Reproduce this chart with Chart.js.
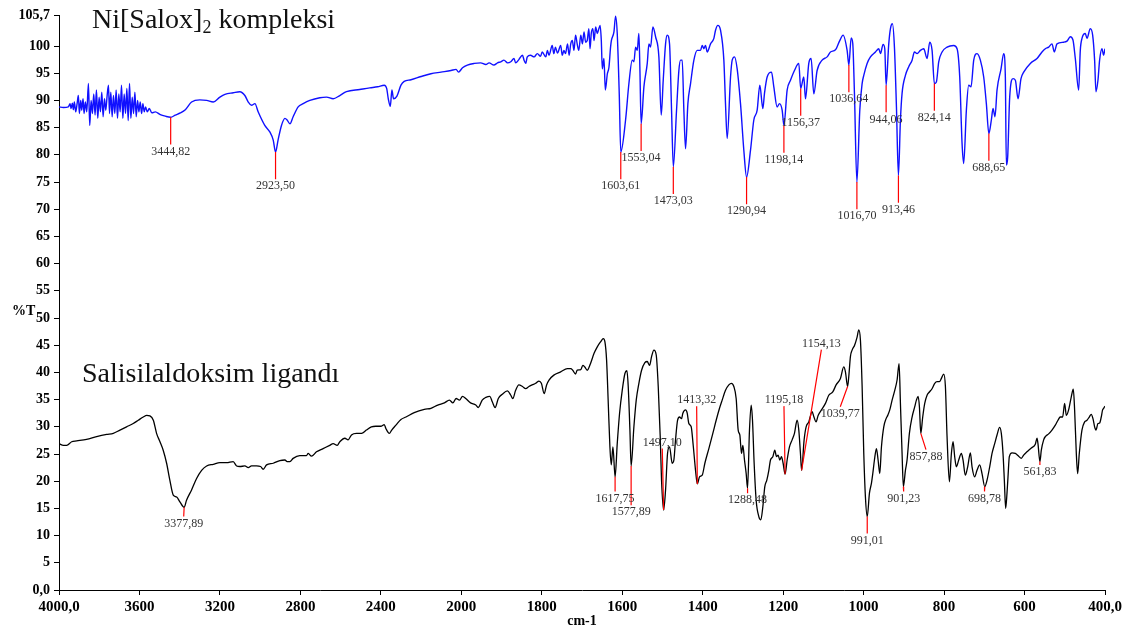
<!DOCTYPE html>
<html>
<head>
<meta charset="utf-8">
<script src="https://cdn.jsdelivr.net/npm/chart.js@4.4.1/dist/chart.umd.min.js"></script>
<style>
  html, body { margin: 0; padding: 0; background: #fff; }
  #wrap { width: 1137px; height: 632px; }
</style>
</head>
<body>
<div id="wrap"><canvas id="ir" width="1137" height="632"></canvas></div>
<script>
'use strict';

// ── IR spectra: Ni[Salox]2 complex (blue) and salicylaldoxime ligand (black) ──

// Ni[Salox]2 kompleksi — wavenumber (cm-1) / %T
const complexWn = [
  4000, 3978.5, 3953.5, 3945, 3940, 3933.6, 3928.6, 3923.6, 3917, 3910, 3903.7, 3898.7, 3892, 3887, 3880.4, 3875.4,
  3868.8, 3862, 3853.8, 3847.2, 3840.5, 3833.9, 3827.2, 3820.6, 3813.9, 3807.3, 3800.6, 3794, 3787.3, 3780.7, 3774, 3767.4,
  3760.7, 3754, 3749, 3742.5, 3735.8, 3729.2, 3722.5, 3715.9, 3709.2, 3702.6, 3696, 3689.3, 3682.6, 3676, 3669.3, 3662.7,
  3656, 3649.4, 3642.7, 3636, 3629.4, 3622.8, 3616.1, 3609.5, 3602.8, 3596.2, 3589.5, 3582.9, 3576.3, 3569.6, 3561.3, 3551.3,
  3538, 3521.4, 3496.5, 3471.5, 3445, 3421.7, 3396.8, 3372, 3341,
  3300, 3266, 3233, 3200, 3175, 3134, 3101, 3076, 3059, 3043, 3026, 3010, 2977, 2952, 2935, 2923.5,
  2911, 2894, 2877, 2866, 2852, 2836, 2811, 2786, 2753, 2703, 2670, 2637, 2604, 2571, 2505, 2455,
  2416, 2383, 2371, 2363, 2353, 2345, 2337, 2320, 2300, 2284, 2250, 2200, 2151, 2101, 2051, 2026,
  2014, 1997, 1985, 1968, 1952, 1939, 1931, 1919, 1910, 1902, 1894, 1885, 1877, 1869, 1865, 1857,
  1848, 1844, 1840, 1836, 1828, 1819, 1811, 1803, 1799, 1790, 1786, 1782, 1774, 1770, 1766, 1761,
  1753, 1749, 1745, 1741, 1736, 1732, 1728, 1724, 1720, 1716, 1712, 1708, 1703, 1699, 1695, 1691,
  1687, 1683, 1680, 1677, 1673, 1670, 1666, 1662, 1658, 1655, 1652, 1649.5, 1645.5, 1642, 1637, 1633,
  1629, 1627, 1620.6, 1616.5, 1612.4, 1607.4, 1603.6, 1591.7, 1583.4, 1575.1, 1571, 1566.8, 1562.7, 1558.6, 1556, 1553,
  1546.1, 1537.8, 1533.7, 1529.6, 1523.8, 1517.1, 1508.9, 1503.1, 1498.1, 1492.3, 1488.2, 1482.4, 1477.4, 1473, 1465, 1459.2,
  1455, 1450.9, 1446.8, 1442.6, 1436.8, 1430.2, 1421.9, 1413.6, 1405.4, 1401.2, 1397.1, 1393, 1388.8, 1380.5, 1372.2, 1368.1,
  1362.3, 1355.7, 1347.4, 1343.3, 1339.1, 1330.8, 1326.7, 1320.9, 1314.3, 1306, 1297.7, 1290.9, 1281.2, 1272.9, 1264.6, 1258,
  1250.5, 1246.4, 1239.8, 1229, 1223.2, 1215, 1209.1, 1202.5, 1198.1, 1190.1, 1181.8, 1171.9, 1161.1, 1156.4, 1148.7, 1144.5,
  1136.3, 1130.5, 1123.8, 1115.6, 1103.1, 1090.7, 1082.4, 1070, 1059.3, 1051, 1041, 1036.6, 1031, 1027, 1022.8, 1016.7,
  1009.5, 1003.7, 999.6, 991.3, 983, 970.6, 962.3, 958.2, 951.6, 947.4, 944.1, 937.5, 933.3, 928.4, 923.4, 918.4,
  913.5, 908.5, 904.4, 896.1, 887.8, 879.5, 873.7, 867.1, 858.8, 850.5, 842.3, 835.6, 829.8, 824.1, 819.1, 813.3,
  805, 792.6, 776, 767.7, 761.1, 755.3, 751.2, 744.6, 738.8, 733, 726.3, 718, 709.8, 701.5, 694.9, 688.7,
  682.5, 678.3, 673.4, 668.4, 658.4, 651.8, 647.7, 645.2, 641.9, 636.9, 628.6, 622.8, 616.2, 608.8, 602.1, 585.6,
  569, 556.6, 548.3, 540, 531.8, 526, 519.4, 502.8, 494.5, 486.2, 479.6, 473.8, 465.5, 461.4, 457.2, 449,
  444.8, 436.5, 430.7, 425.8, 422.5, 417.5, 413.4, 407.6, 403.4, 400
];
const complexT = [
  88.8, 88.7, 88.8, 89.4, 88.5, 89.5, 88.3, 89.7, 87.9, 89.4, 90.9, 87.6, 90.0, 88.2, 90.3, 87.6,
  89.7, 87.9, 93.1, 85.4, 90.0, 87.6, 91.2, 87.3, 91.9, 86.7, 90.6, 87.9, 91.5, 87.0, 90.3, 88.2,
  90.9, 92.8, 87.6, 91.5, 87.0, 90.9, 87.6, 91.9, 86.7, 91.2, 87.9, 92.8, 86.7, 91.2, 87.6, 92.2,
  86.3, 93.1, 86.7, 90.6, 87.6, 91.5, 87.0, 90.0, 87.9, 89.7, 87.6, 89.4, 87.9, 88.8, 87.9, 88.5,
  87.7, 87.9, 87.4, 87.1, 86.9, 87.3, 87.7, 88.3, 89.7,
  90.1, 90.0, 89.7, 90.6, 91.1, 91.4, 91.6, 90.9, 89.7, 89.1, 89.4, 87.9, 85.4, 84.2, 82.7, 80.5,
  82.7, 85.4, 86.7, 86.4, 85.7, 87.0, 88.8, 89.4, 90.0, 90.5, 90.6, 90.3, 90.9, 91.6, 92.0, 92.3,
  92.5, 92.8, 92.2, 90.3, 88.9, 91.9, 90.3, 90.8, 92.8, 93.5, 93.8, 94.4, 94.9, 95.2, 95.5, 95.7,
  95.2, 96.0, 96.5, 96.8, 96.9, 96.6, 96.9, 96.5, 96.9, 97.1, 97.4, 96.9, 97.1, 97.7, 96.9, 97.5,
  98.3, 97.4, 96.8, 98.0, 98.3, 98.0, 98.6, 98.1, 98.9, 98.0, 99.2, 98.3, 100.1, 98.6, 99.8, 98.7,
  100.1, 98.3, 99.2, 98.6, 100.4, 98.3, 100.4, 101.0, 99.2, 102.0, 100.4, 99.2, 102.0, 100.4, 102.6, 100.7,
  101.0, 103.2, 99.5, 102.3, 103.2, 101.0, 103.5, 102.3, 103.2, 103.8, 101.0, 95.8, 97.7, 91.9, 94.9, 96.1,
  99.8, 101.0, 102.6, 105.5, 102.3, 91.2, 80.5, 86.4, 93.1, 97.4, 97.1, 99.8, 99.2, 102.3, 95.5, 85.7,
  92.5, 96.8, 100.4, 99.8, 103.5, 101.7, 98.0, 87.3, 93.7, 100.4, 102.0, 100.4, 88.2, 77.8, 88.2, 95.5,
  97.4, 97.4, 88.2, 81.1, 89.4, 93.1, 97.4, 99.2, 99.2, 100.1, 99.5, 100.1, 98.9, 100.4, 101.4, 102.9,
  103.8, 102.9, 97.4, 89.4, 83.0, 94.3, 97.4, 98.0, 95.8, 89.4, 80.8, 75.9, 80.8, 86.4, 88.2, 92.8,
  88.5, 91.3, 94.3, 95.2, 92.5, 88.8, 89.4, 88.2, 85.4, 91.9, 93.7, 95.5, 96.8, 92.2, 94.3, 90.3,
  96.8, 97.7, 91.2, 95.5, 97.4, 98.0, 98.9, 99.3, 101.0, 102.0, 99.2, 96.5, 101.5, 100.5, 91.3, 75.0,
  88.2, 93.1, 94.6, 96.8, 98.0, 98.9, 99.5, 98.6, 100.3, 99.5, 92.8, 100.4, 103.2, 104.1, 99.8, 88.8,
  76.2, 86.4, 91.3, 94.6, 96.2, 97.4, 98.9, 98.6, 99.2, 99.5, 97.7, 100.7, 99.2, 93.1, 93.4, 97.1,
  98.9, 99.8, 100.1, 99.5, 94.3, 82.1, 78.4, 88.2, 92.8, 92.5, 97.4, 98.6, 97.4, 94.3, 89.4, 83.9,
  86.4, 88.5, 87.0, 91.9, 95.8, 98.6, 94.3, 78.1, 79.6, 90.6, 94.0, 93.7, 90.3, 94.0, 95.2, 96.8,
  97.7, 98.9, 99.5, 99.8, 100.4, 98.9, 100.4, 100.7, 100.9, 101.7, 101.1, 97.7, 91.9, 99.2, 101.4, 102.3,
  101.4, 103.2, 102.0, 97.4, 91.6, 93.7, 97.4, 99.5, 98.3, 99.5
];

// Salisilaldoksim ligandı — wavenumber (cm-1) / %T
const ligandWn = [
  4000, 3978, 3962, 3937, 3912, 3863, 3813, 3763, 3730, 3697, 3664, 3631, 3606, 3581, 3564, 3548,
  3531, 3515, 3498, 3482, 3465, 3449, 3432, 3415, 3399, 3377.9, 3366, 3341, 3316, 3291, 3266, 3233,
  3200, 3167, 3134, 3117, 3101, 3076, 3059, 3043, 3018, 2998, 2985, 2968, 2935, 2902, 2877, 2866,
  2852, 2836, 2803, 2770, 2761, 2745, 2720, 2687, 2654, 2637, 2617, 2604, 2579, 2563, 2546, 2521,
  2496, 2472, 2447, 2425, 2400, 2383, 2375, 2358, 2346, 2325, 2300, 2275, 2234, 2184, 2151, 2117,
  2084, 2059, 2042, 2026, 2009, 1997, 1989, 1977, 1964, 1958, 1948, 1939, 1929, 1923, 1916, 1908,
  1898, 1885.5, 1877, 1872, 1865, 1857, 1848, 1840, 1832, 1824, 1815, 1807, 1801, 1794, 1788, 1782,
  1770, 1753, 1736.5, 1728, 1723, 1716, 1712, 1703, 1698, 1693, 1687, 1679, 1670, 1662, 1654, 1647,
  1643, 1638.9, 1634.7, 1630.6, 1627.3, 1623.1, 1617.75, 1612.4, 1606.6, 1600, 1593.3, 1588.4, 1585.1, 1580.9, 1577.9, 1571,
  1565.2, 1558.6, 1551.9, 1543.7, 1537.9, 1532, 1527.1, 1521.3, 1515.5, 1510.5, 1505.6, 1502.3, 1497.1, 1492.3, 1487.4, 1482.4,
  1475.8, 1471.6, 1467.5, 1462.5, 1457.5, 1452.6, 1449.3, 1442.6, 1438.5, 1434.4, 1428.6, 1423.6, 1417.8, 1413.3, 1407.9, 1401.2,
  1394.6, 1384.7, 1374.8, 1366.5, 1358.2, 1351.6, 1343.3, 1335, 1328.4, 1322.6, 1316.8, 1311.8, 1307.7, 1303.5, 1300.2, 1296.1,
  1291.9, 1288.5, 1283.7, 1279.5, 1276.2, 1272.1, 1267.1, 1260.5, 1255.5, 1250.5, 1245.6, 1240.6, 1235.6, 1231.5, 1225.7, 1220.7,
  1216.6, 1212.5, 1208.3, 1204.2, 1200.1, 1195.2, 1190.1, 1184.3, 1177.7, 1171.9, 1165.3, 1161.1, 1157, 1154.1, 1147.9, 1142.9,
  1136.3, 1128, 1123.9, 1118.1, 1113.1, 1104.8, 1094.9, 1086.6, 1076.7, 1068.4, 1057.6, 1049.4, 1045.2, 1039.8, 1036.9, 1032.8,
  1028.6, 1022.4, 1016.2, 1012, 1007.9, 1003.7, 999.6, 995.5, 991, 985.5, 980.6, 977.2, 973.1, 968.1, 964, 959.9,
  955.7, 949.9, 944.1, 940, 935, 929.2, 922.6, 916.8, 911.8, 908.5, 904.4, 901.2, 896.1, 892, 886.2, 879.5,
  872.9, 868.8, 864.6, 861.3, 857.9, 853.1, 848.1, 842.3, 836.5, 829.9, 823.2, 817.4, 811.6, 806.7, 800.9, 796.7,
  792.6, 786.8, 781.8, 777.7, 773.6, 769.4, 763.6, 757, 752.9, 747.1, 741.3, 734.6, 730.5, 723.9, 718.1, 711.5,
  705.7, 698.8, 693.2, 686.6, 680.8, 674.2, 668.4, 661.8, 657.7, 653.5, 650.2, 646.9, 643.6, 641.1, 637.8, 631.1,
  622.9, 614.6, 608, 602.2, 593.9, 583.1, 573.2, 569, 566.6, 561.8, 558.3, 552.5, 548.3, 540.1, 531.8, 523.5,
  516.9, 511.1, 505.3, 500.3, 496.2, 490.4, 483.8, 478.8, 475.5, 471.3, 468, 463.9, 457.3, 450.6, 444.8, 439.1,
  434.1, 429.9, 425.8, 422.5, 417.5, 413.4, 409.3, 406, 403.4, 400
];
const ligandT = [
  26.9, 26.6, 26.6, 27.25, 27.4, 27.7, 28.2, 28.6, 28.8, 29.4, 30.0, 30.6, 31.2, 31.8, 32.1, 32.0,
  31.2, 28.8, 27.25, 25.7, 23.3, 20.2, 17.45, 17.1, 16.2, 15.2, 16.5, 18.4, 20.5, 22.0, 22.8, 23.1,
  23.4, 23.4, 23.6, 22.8, 22.7, 22.8, 22.5, 22.8, 22.8, 22.7, 22.2, 23.0, 23.3, 23.8, 23.9, 23.6,
  23.6, 24.2, 24.7, 24.7, 25.1, 24.6, 25.4, 26.0, 26.6, 26.9, 26.6, 27.25, 27.9, 27.6, 28.5, 28.8,
  28.8, 29.4, 30.0, 30.1, 30.1, 30.4, 29.7, 28.8, 29.4, 30.3, 31.35, 31.8, 32.6, 33.2, 33.4, 34.0,
  34.4, 34.9, 34.4, 35.2, 34.9, 35.6, 35.2, 34.4, 34.0, 33.55, 34.9, 35.4, 35.6, 34.6, 33.55, 35.2,
  36.0, 36.6, 35.8, 35.2, 36.7, 37.7, 37.4, 37.0, 37.4, 37.7, 38.0, 38.4, 38.0, 36.1, 37.7, 38.6,
  39.5, 40.1, 40.7, 40.7, 40.4, 39.7, 40.4, 40.5, 41.3, 41.0, 40.4, 41.6, 43.5, 44.7, 45.6, 46.2,
  45.6, 42.3, 34.3, 26.3, 23.0, 26.3, 20.8, 26.9, 32.5, 36.7, 39.8, 40.3, 37.4, 29.4, 22.8, 30.0,
  34.9, 38.0, 40.4, 41.8, 42.0, 41.3, 42.9, 44.1, 43.2, 37.4, 28.2, 20.2, 14.7, 18.4, 25.1, 26.3,
  23.3, 23.9, 27.6, 31.2, 31.8, 31.5, 32.5, 33.1, 32.5, 30.6, 30.0, 26.6, 22.0, 19.5, 20.8, 21.1,
  23.3, 26.0, 28.8, 31.2, 33.4, 34.9, 36.7, 37.7, 38.0, 37.4, 35.2, 29.4, 28.5, 25.1, 26.6, 23.9,
  21.4, 18.7, 29.4, 34.0, 31.2, 23.3, 16.5, 13.5, 12.9, 15.3, 19.0, 20.2, 22.0, 23.9, 24.5, 25.7,
  24.5, 24.8, 23.9, 24.5, 23.3, 21.3, 23.9, 26.3, 27.6, 28.8, 31.2, 29.4, 25.1, 22.0, 27.6, 30.0,
  30.9, 32.8, 31.9, 30.9, 32.1, 33.1, 34.3, 35.8, 36.4, 37.7, 38.9, 41.0, 40.1, 37.4, 39.2, 42.9,
  44.1, 45.0, 46.5, 47.8, 45.9, 37.4, 25.1, 17.1, 13.5, 17.8, 19.6, 21.4, 23.9, 26.0, 23.9, 21.4,
  26.3, 30.0, 31.5, 32.1, 33.1, 34.9, 36.7, 38.6, 41.6, 34.3, 25.1, 19.0, 22.0, 23.9, 28.8, 31.8,
  33.7, 34.9, 35.6, 33.7, 28.8, 31.8, 34.3, 35.8, 36.4, 37.0, 38.0, 38.3, 38.3, 38.9, 39.7, 37.4,
  28.2, 19.9, 25.1, 27.25, 24.5, 22.65, 23.9, 25.1, 23.9, 21.1, 22.65, 25.2, 22.65, 20.8, 22.0, 23.0,
  21.4, 19.0, 20.2, 22.65, 25.1, 26.9, 28.5, 29.9, 28.8, 25.1, 20.2, 15.0, 17.8, 20.8, 24.5, 25.2,
  25.1, 24.6, 24.2, 24.8, 25.4, 26.1, 26.8, 27.9, 26.9, 23.6, 25.7, 27.6, 28.2, 28.7, 29.4, 30.3,
  31.2, 31.8, 31.8, 34.3, 32.1, 33.1, 35.5, 36.9, 33.1, 25.1, 21.4, 25.1, 29.4, 30.9, 31.2, 31.8,
  32.3, 31.5, 30.0, 29.4, 30.6, 30.7, 31.8, 33.1, 33.4, 33.8
];

// peak picks: label text (cm-1) and %T at the band minimum
const complexPeakLabels = ['3444,82', '2923,50', '1603,61', '1553,04', '1473,03', '1290,94', '1198,14',
                           '1156,37', '1036,64', '1016,70', '944,06', '913,46', '824,14', '688,65'];
const complexPeakT      = [86.9, 80.5, 80.5, 85.7, 77.8, 75.9, 85.4, 92.2, 96.5, 75.0, 92.8, 76.2, 93.1, 83.9];

const ligandPeakLabels  = ['3377,89', '1617,75', '1577,89', '1497,10', '1413,32', '1288,48', '1195,18',
                           '1154,13', '1039,77', '991,01', '901,23', '857,88', '698,78', '561,83'];
const ligandPeakT       = [15.2, 20.8, 22.8, 14.7, 19.5, 18.7, 21.3, 22.0, 37.4, 13.5, 19.0, 28.8, 19.0, 23.6];
// where each ligand leader line ends (label sits past this end)
const ligandLeaderWn    = [3380, 1617.75, 1577.89, 1500.5, 1415, 1288.48, 1198, 1105, 1058, 991.01, 900.5, 845, 699.5, 561.83];
const ligandLeaderT     = [13.5, 18.1, 15.6, 26.0, 33.8, 17.8, 33.8, 44.2, 33.7, 10.4, 18.1, 25.8, 18.1, 23.0];

const yTickValues = [0, 5, 10, 15, 20, 25, 30, 35, 40, 45, 50, 55, 60, 65, 70, 75, 80, 85, 90, 95, 100, 105.7];

// x axis is expanded 2x below 2000 cm-1 — map wavenumber onto a linear position
const toPos   = w => (w >= 2000 ? 4000 - w : 2000 + 2 * (2000 - w));
const fromPos = p => (p <= 2000 ? 4000 - p : 2000 - (p - 2000) / 2);
const numOf   = s => parseFloat(s.replace(',', '.'));

const SERIF = '"Liberation Serif", "Times New Roman", serif';
const TOP_LEADER = 5;   // %T length of complex leader lines

function spectrum(wn, t) {
  return wn.map((w, i) => ({ x: toPos(w), y: t[i] }));
}

function leaderData() {
  const pts = [];
  complexPeakLabels.forEach((lab, i) => {
    const w = numOf(lab);
    pts.push({ x: toPos(w), y: complexPeakT[i] }, { x: toPos(w), y: complexPeakT[i] - TOP_LEADER }, { x: toPos(w), y: null });
  });
  ligandPeakLabels.forEach((lab, i) => {
    const w = numOf(lab);
    pts.push({ x: toPos(w), y: ligandPeakT[i] }, { x: toPos(ligandLeaderWn[i]), y: ligandLeaderT[i] }, { x: toPos(w), y: null });
  });
  return pts;
}

const annotations = {
  id: 'annotations',
  afterDatasetsDraw(chart) {
    const { ctx, scales: { x, y }, chartArea } = chart;
    ctx.save();

    // peak labels
    ctx.font = '12px ' + SERIF;
    ctx.fillStyle = '#333';
    ctx.textAlign = 'center';
    ctx.textBaseline = 'top';
    complexPeakLabels.forEach((lab, i) => {
      const px = x.getPixelForValue(toPos(numOf(lab)));
      const py = y.getPixelForValue(complexPeakT[i] - TOP_LEADER);
      ctx.fillText(lab, px, py + 1);
    });
    ligandPeakLabels.forEach((lab, i) => {
      const px = x.getPixelForValue(toPos(ligandLeaderWn[i]));
      const py = y.getPixelForValue(ligandLeaderT[i]);
      const below = ligandLeaderT[i] < ligandPeakT[i];
      ctx.textBaseline = below ? 'top' : 'bottom';
      ctx.fillText(lab, px, below ? py + 1 : py);
    });

    // spectrum titles
    ctx.fillStyle = '#111';
    ctx.textAlign = 'left';
    ctx.textBaseline = 'alphabetic';
    let tx = x.getPixelForValue(toPos(3836));
    const ty = y.getPixelForValue(103.3);
    ctx.font = '28px ' + SERIF;
    ctx.fillText('Ni[Salox]', tx, ty);
    tx += ctx.measureText('Ni[Salox]').width;
    ctx.font = '18px ' + SERIF;
    ctx.fillText('2', tx, ty + 5);
    tx += ctx.measureText('2').width;
    ctx.font = '28px ' + SERIF;
    ctx.fillText(' kompleksi', tx, ty);
    ctx.fillText('Salisilaldoksim ligandı', x.getPixelForValue(toPos(3886)), y.getPixelForValue(38.2));

    // axis captions
    ctx.fillStyle = '#000';
    ctx.font = 'bold 14px ' + SERIF;
    ctx.textBaseline = 'middle';
    ctx.fillText('%T', 12, y.getPixelForValue(51.3));
    ctx.textAlign = 'center';
    ctx.fillText('cm-1', (chartArea.left + chartArea.right) / 2, 621);
    ctx.restore();
  }
};

new Chart(document.getElementById('ir'), {
  type: 'line',
  data: {
    datasets: [
      {
        label: 'leaders',
        data: leaderData(),
        borderColor: '#ff0000',
        borderWidth: 1.2,
        pointRadius: 0,
        spanGaps: false,
        tension: 0,
      },
      {
        label: 'Ni[Salox]2 kompleksi',
        data: spectrum(complexWn, complexT),
        borderColor: '#1010ff',
        borderWidth: 1.4,
        pointRadius: 0,
        cubicInterpolationMode: 'monotone',
      },
      {
        label: 'Salisilaldoksim ligandı',
        data: spectrum(ligandWn, ligandT),
        borderColor: '#000000',
        borderWidth: 1.3,
        pointRadius: 0,
        cubicInterpolationMode: 'monotone',
      },
    ],
  },
  options: {
    responsive: false,
    animation: false,
    devicePixelRatio: 1,
    layout: { padding: { top: 15, right: 32, left: 0, bottom: 0 } },
    plugins: { legend: { display: false }, tooltip: { enabled: false } },
    scales: {
      x: {
        type: 'linear',
        min: 0, max: 5200,
        afterFit: s => { s.height = 42; },
        ticks: {
          stepSize: 400, autoSkip: false, maxRotation: 0, padding: 3,
          color: '#000', font: { family: SERIF, size: 15, weight: 'bold' },
          callback: v => {
            const w = fromPos(v);
            return (w === 4000 || w === 400) ? w + ',0' : String(w);
          },
        },
        grid: { drawOnChartArea: false, tickLength: 5, color: '#000' },
        border: { color: '#000', width: 1 },
      },
      y: {
        type: 'linear',
        min: 0, max: 105.7,
        afterFit: s => { s.width = 59; },
        afterBuildTicks: s => { s.ticks = yTickValues.map(v => ({ value: v })); },
        ticks: {
          autoSkip: false, padding: 4,
          color: '#000', font: { family: SERIF, size: 14, weight: 'bold' },
          callback: v => (v === 0 ? '0,0' : v === 105.7 ? '105,7' : String(v)),
        },
        grid: { drawOnChartArea: false, tickLength: 5, color: '#000' },
        border: { color: '#000', width: 1 },
      },
    },
  },
  plugins: [annotations],
});
</script>
</body>
</html>
